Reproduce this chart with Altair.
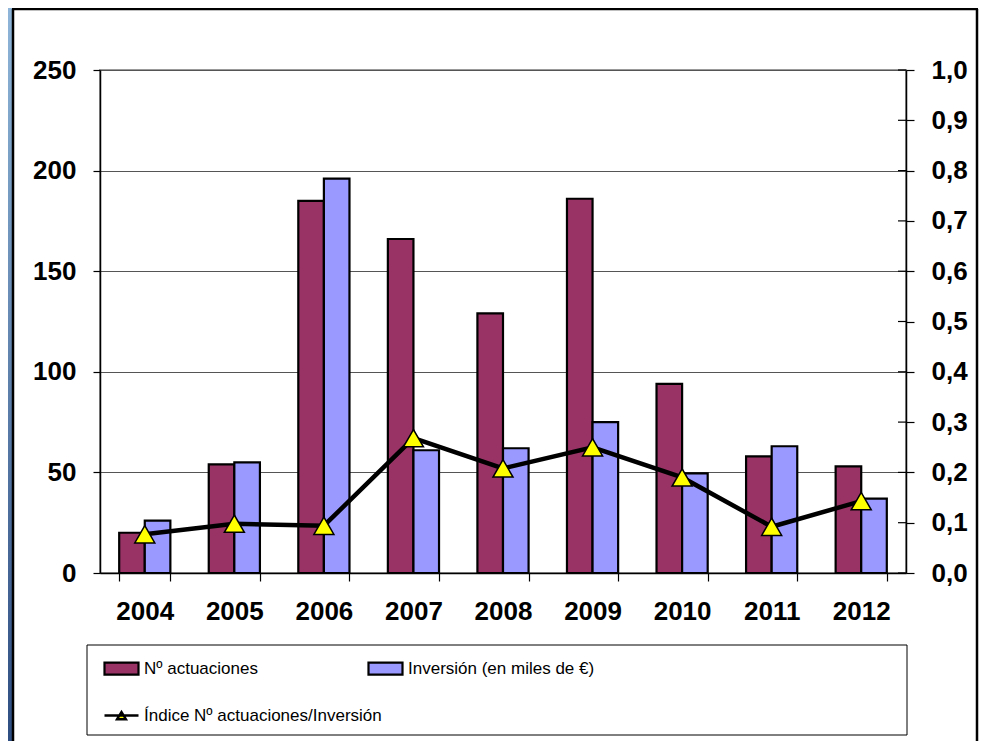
import altair as alt
import pandas as pd

# ---- data ----
years = ["2004", "2005", "2006", "2007", "2008", "2009", "2010", "2011", "2012"]
actuaciones = [20, 54, 185, 166, 129, 186, 94, 58, 53]
inversion = [26, 55, 196, 61, 62, 75, 49.5, 63, 37]
indice = [0.077, 0.098, 0.094, 0.268, 0.208, 0.250, 0.190, 0.092, 0.143]
bar_series = ["Nº actuaciones", "Inversión (en miles de €)"]
bar_colors = ["#993366", "#9999ff"]
line_series = ["Índice Nº actuaciones/Inversión"]
left_ticks = [0, 50, 100, 150, 200, 250]
right_ticks = [0.0, 0.1, 0.2, 0.3, 0.4, 0.5, 0.6, 0.7, 0.8, 0.9, 1.0]

bars_df = pd.DataFrame(
    [{"year": y, "serie": bar_series[0], "value": v} for y, v in zip(years, actuaciones)]
    + [{"year": y, "serie": bar_series[1], "value": v} for y, v in zip(years, inversion)]
)
line_df = pd.DataFrame({"year": years, "idx": indice, "serie": line_series[0]})
ticks_df = pd.DataFrame({"idx": right_ticks})
dummy = pd.DataFrame({"a": [0]})

W, H = 806, 503
FONT = "Liberation Sans"
AX_SIZE = 26
LEG_SIZE = 17

x_enc = alt.X(
    "year:N", sort=years, title=None,
    scale=alt.Scale(paddingInner=0.4286, paddingOuter=0.2143),
    axis=alt.Axis(labelAngle=0, tickBand="extent", tickSize=8, labelFont=FONT,
                  labelFontSize=AX_SIZE, labelFontWeight="bold", labelColor="black",
                  labelPadding=17, domainColor="black", domainWidth=1.5,
                  tickColor="black", tickWidth=1.2, grid=False),
)

fill_enc = alt.Fill(
    "serie:N",
    scale=alt.Scale(domain=bar_series, range=bar_colors),
    legend=alt.Legend(
        title=None, orient="none", legendX=3, legendY=580, direction="horizontal",
        columns=2, columnPadding=106, padding=0,
        labelFont=FONT, labelFontSize=LEG_SIZE, labelColor="black",
        labelLimit=500, labelOffset=4,
        symbolSize=1156, symbolType="M-1,-0.35H1V0.35H-1Z",
        symbolStrokeColor="black", symbolStrokeWidth=2.2, symbolOpacity=1,
    ),
)

stroke_enc = alt.Stroke(
    "serie:N",
    scale=alt.Scale(domain=line_series, range=["black"]),
    legend=alt.Legend(
        title=None, orient="none", legendX=3, legendY=627, padding=0,
        labelFont=FONT, labelFontSize=LEG_SIZE, labelColor="black",
        labelLimit=500, labelOffset=4,
        symbolSize=1156, symbolType="M-1,0H1M-0.26,0.22L0,-0.2L0.26,0.22Z",
        symbolFillColor="#ffff00", symbolStrokeColor="black",
        symbolStrokeWidth=2.4, symbolOpacity=1,
    ),
)

gradient = alt.LinearGradient(
    gradient="linear", x1=0, y1=0, x2=0, y2=1,
    stops=[alt.GradientStop(offset=0, color="#8fb6d8"),
           alt.GradientStop(offset=1, color="#2d4c80")],
)

# frame decoration (slide background strip and panel border), outside the plot area
left_strip = alt.Chart(dummy).mark_rect(fill=gradient).encode(
    x=alt.value(-92), x2=alt.value(-87), y=alt.value(-62), y2=alt.value(680))
border_left = alt.Chart(dummy).mark_rule(color="black", strokeWidth=2.5).encode(
    x=alt.value(-87), y=alt.value(-61), y2=alt.value(680))
border_right = alt.Chart(dummy).mark_rule(color="black", strokeWidth=2.5).encode(
    x=alt.value(877), y=alt.value(-61), y2=alt.value(680))
border_top = alt.Chart(dummy).mark_rule(color="black", strokeWidth=2.5).encode(
    x=alt.value(-88), x2=alt.value(878), y=alt.value(-61))
legbox = alt.Chart(dummy).mark_rect(fill="white", stroke="black", strokeWidth=1).encode(
    x=alt.value(-13), x2=alt.value(807), y=alt.value(575), y2=alt.value(665))

bars = alt.Chart(bars_df).mark_bar(stroke="black", strokeWidth=2.2).encode(
    x=x_enc,
    xOffset=alt.XOffset("serie:N", sort=bar_series, scale=alt.Scale(paddingInner=0, paddingOuter=0)),
    y=alt.Y("value:Q", scale=alt.Scale(domain=[0, 250], nice=False), title=None,
            axis=alt.Axis(orient="left", values=left_ticks, tickSize=7, labelPadding=17,
                          labelFont=FONT, labelFontSize=AX_SIZE, labelFontWeight="bold",
                          labelColor="black", domainColor="black", domainWidth=1.5,
                          tickColor="black", tickWidth=1.2, grid=True,
                          gridColor="#555555", gridWidth=1.2)),
    fill=fill_enc,
)

y_right = alt.Y("idx:Q", scale=alt.Scale(domain=[0, 1], nice=False), title=None,
                axis=alt.Axis(orient="right", values=right_ticks, tickSize=8, labelPadding=17,
                              labelExpr="replace(format(datum.value, '.1f'), '.', ',')",
                              labelFont=FONT, labelFontSize=AX_SIZE, labelFontWeight="bold",
                              labelColor="black", domainColor="black", domainWidth=1.5,
                              tickColor="black", tickWidth=1.2, grid=False))

line = alt.Chart(line_df).mark_line(strokeWidth=4.5).encode(x=x_enc, y=y_right, stroke=stroke_enc)
points = alt.Chart(line_df).mark_point(shape="triangle-up", size=400, filled=True,
                                       fill="#ffff00", stroke="black", strokeWidth=1.5,
                                       opacity=1).encode(x=x_enc, y=y_right)
inner_ticks = alt.Chart(ticks_df).mark_rule(color="black", strokeWidth=1.2).encode(
    y=y_right, x=alt.value(W - 8), x2=alt.value(W))

right = alt.layer(inner_ticks, line, points)

chart = alt.layer(left_strip, border_left, border_right, border_top, legbox, bars, right).resolve_scale(
    y="independent"
).properties(
    width=W, height=H,
    padding={"left": 92, "top": 62, "right": 74, "bottom": 168},
    autosize=alt.AutoSizeParams(type="none"),
    background="white",
).configure_view(stroke="#999999", strokeWidth=2)

chart.save("out.html", embed_options={"renderer": "svg", "actions": False})
